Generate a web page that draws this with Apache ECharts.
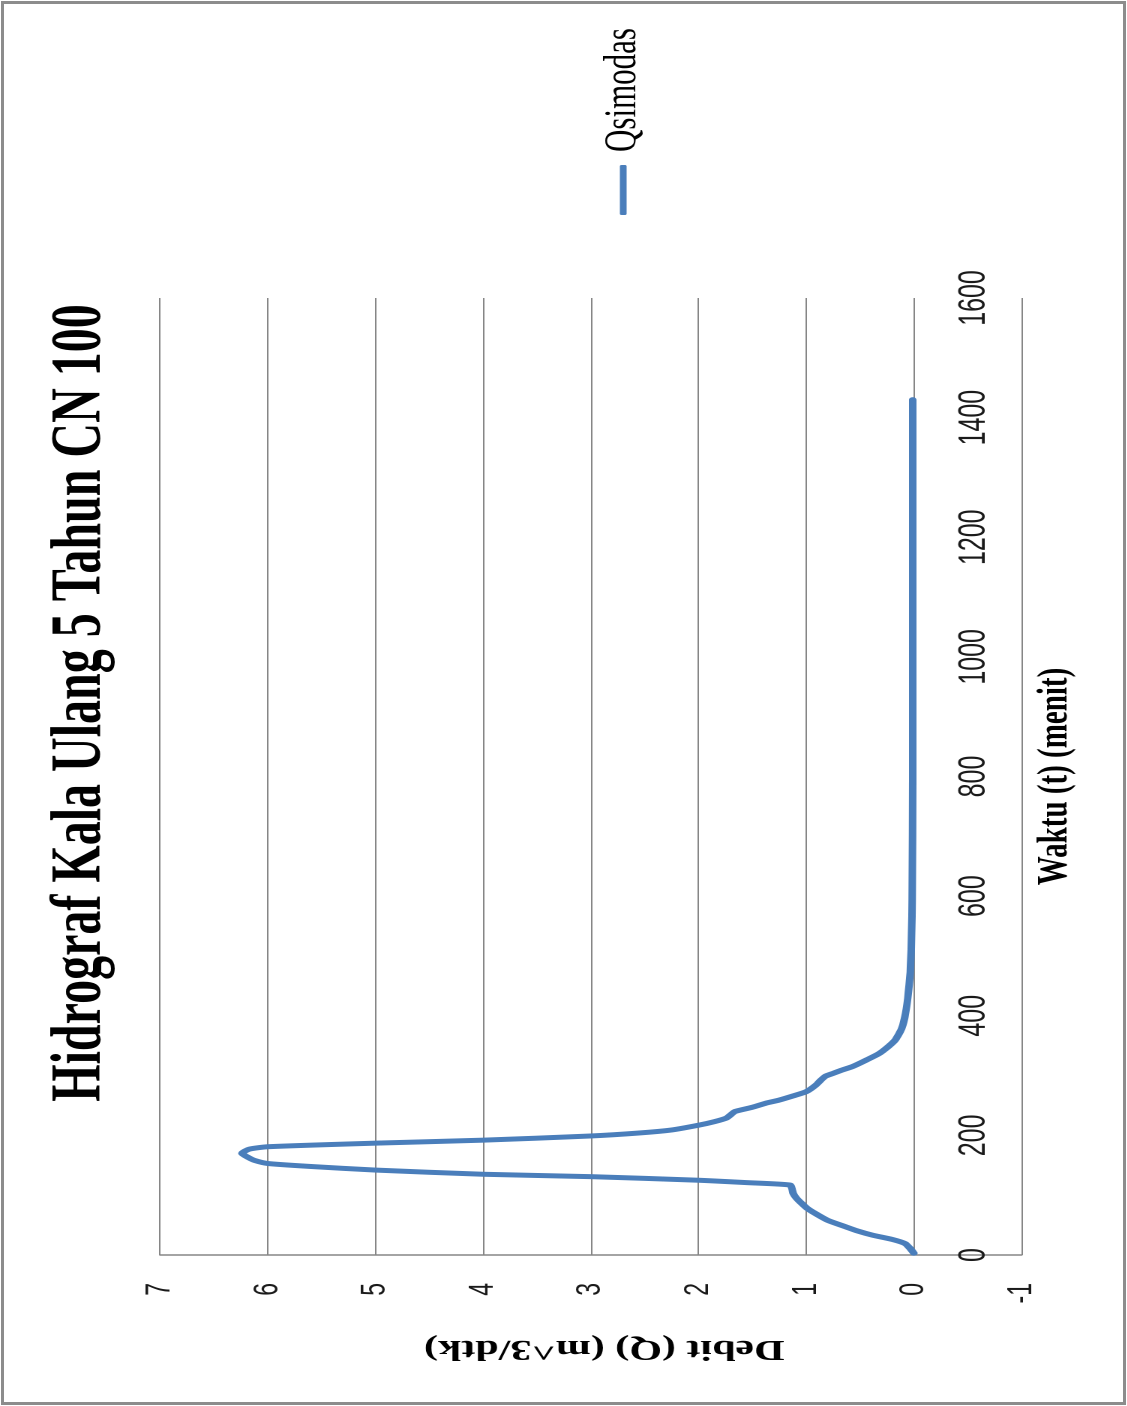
<!DOCTYPE html>
<html>
<head>
<meta charset="utf-8">
<script src="https://cdn.jsdelivr.net/npm/echarts@6/dist/echarts.min.js"></script>
<style>
html,body{margin:0;padding:0;background:#fff;overflow:hidden;width:1127px;height:1406px;}
#chart{position:absolute;left:0;top:0;width:1406px;height:751px;transform-origin:0 0;transform:translateY(1406px) rotate(-90deg) scale(1,1.5);}
#frame{position:absolute;left:1px;top:1px;width:1119px;height:1398px;border:3px solid #8c8c8c;pointer-events:none;}
</style>
</head>
<body>
<div id="chart"></div>
<div id="frame"></div>
<script>
const seriesName = 'Qsimodas';
const timeMin = [3, 10, 19, 26, 33, 40, 47, 58, 70, 78, 86, 95, 103, 110, 117,
  121, 125, 131, 135, 142, 148, 153, 158, 163, 170, 177, 181, 187, 192, 199,
  204, 209, 217, 223, 229, 236, 240, 247, 254, 259, 266, 273, 284, 293, 299,
  303, 309, 315, 326, 337, 348, 360, 380, 404, 440, 482, 540, 594, 700, 900,
  1100, 1300, 1430];
const debit = [0.00, 0.03, 0.08, 0.20, 0.38, 0.52, 0.63, 0.80, 0.92, 0.99, 1.04, 1.09, 1.12, 1.13, 1.15,
  1.55, 2.00, 3.00, 4.00, 5.00, 5.60, 6.00, 6.12, 6.18, 6.24, 6.17, 6.00, 5.00, 4.00, 3.00,
  2.55, 2.25, 2.00, 1.85, 1.74, 1.69, 1.66, 1.50, 1.37, 1.25, 1.12, 1.00, 0.91, 0.86, 0.82,
  0.76, 0.67, 0.57, 0.44, 0.32, 0.24, 0.17, 0.11, 0.077, 0.05, 0.03, 0.02, 0.015, 0.012, 0.01,
  0.01, 0.01, 0.01];
const xTickMin = 0, xTickMax = 1600, xTickStep = 200;
const yTickMin = -1, yTickMax = 7, yTickStep = 1;
const titleText = 'Hidrograf Kala Ulang 5 Tahun CN 100';
const xName = 'Waktu (t) (menit)';
const yName = 'Debit (Q) (m^3/dtk)';

const points = timeMin.map((t, i) => [t, debit[i]]);

const chart = echarts.init(document.getElementById('chart'), null, {renderer: 'canvas', devicePixelRatio: 2, width: 1406, height: 751});
const serif = 'Liberation Serif, Times New Roman, serif';
const sans = 'Liberation Sans, Arial, sans-serif';
chart.setOption({
  animation: false,
  backgroundColor: '#fff',
  title: {
    text: titleText, left: 'center', top: 25,
    textStyle: {fontFamily: serif, fontWeight: 'bold', fontSize: 48, color: '#000'}
  },
  legend: {
    data: [seriesName], left: 1186, top: 395, icon: 'roundRect',
    itemWidth: 50, itemHeight: 4.5,
    textStyle: {fontFamily: serif, fontSize: 31, color: '#000', padding: [0, 0, 0, 8]}
  },
  grid: {left: 151, right: 298, top: 106.7, bottom: 70, containLabel: false, outerBoundsMode: 'none'},
  xAxis: {
    type: 'value', min: xTickMin, max: xTickMax, interval: xTickStep,
    axisLine: {show: false, onZero: false},
    axisTick: {show: false}, splitLine: {show: false},
    axisLabel: {inside: true, margin: 19, fontFamily: sans, fontSize: 25, color: '#1a1a1a',
      formatter: v => String(v)},
    name: xName, nameLocation: 'middle', nameGap: 8,
    nameTextStyle: {fontFamily: serif, fontWeight: 'bold', fontSize: 29, color: '#000'}
  },
  yAxis: {
    type: 'value', min: yTickMin, max: yTickMax, interval: yTickStep,
    axisLine: {show: true, onZero: false, lineStyle: {color: '#868686', width: 1.5}},
    axisTick: {show: false},
    splitLine: {show: true, lineStyle: {color: '#868686', width: 1}},
    axisLabel: {margin: 28, fontFamily: sans, fontSize: 23, color: '#1a1a1a'},
    name: yName, nameLocation: 'middle', nameGap: 79, nameRotate: 90,
    nameTextStyle: {fontFamily: serif, fontWeight: 'bold', fontSize: 28, color: '#000', padding: [0, 18, 0, 0]}
  },
  series: [{
    type: 'line', name: seriesName, data: points,
    showSymbol: false, smooth: 0.2,
    lineStyle: {color: '#4a7ebb', width: 5, cap: 'round', join: 'round'},
    itemStyle: {color: '#4a7ebb'}
  }]
});
</script>
</body>
</html>
